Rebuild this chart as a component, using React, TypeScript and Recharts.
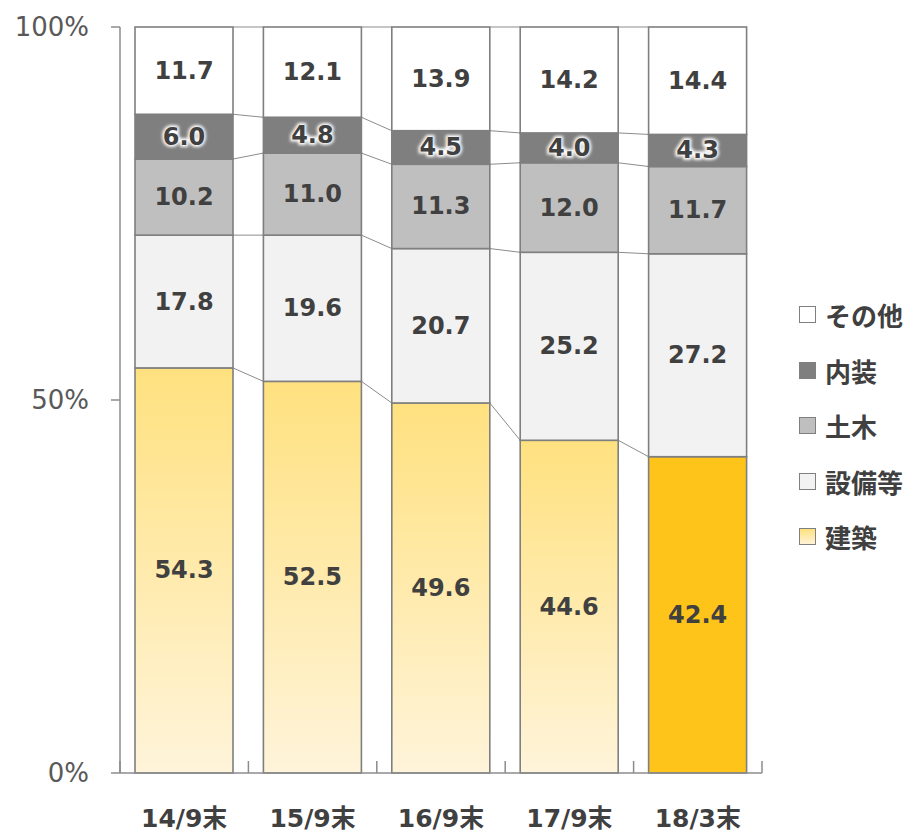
import { Bar, BarChart, LabelList, XAxis, YAxis } from "recharts";

const categories = ["14/9末", "15/9末", "16/9末", "17/9末", "18/3末"];
const kenchiku = [54.3, 52.5, 49.6, 44.6, 42.4];
const setsubi = [17.8, 19.6, 20.7, 25.2, 27.2];
const doboku = [10.2, 11.0, 11.3, 12.0, 11.7];
const naiso = [6.0, 4.8, 4.5, 4.0, 4.3];
const sonota = [11.7, 12.1, 13.9, 14.2, 14.4];
const yTicks = [0, 50, 100];

const SERIES = [
  { key: "kenchiku", name: "建築", fill: "url(#kenGrad)" },
  { key: "setsubi", name: "設備等", fill: "#f2f2f2" },
  { key: "doboku", name: "土木", fill: "#bfbfbf" },
  { key: "naiso", name: "内装", fill: "#7f7f7f" },
  { key: "sonota", name: "その他", fill: "#ffffff" },
];

const data = categories.map((c, i) => ({
  name: c,
  kenchiku: kenchiku[i],
  setsubi: setsubi[i],
  doboku: doboku[i],
  naiso: naiso[i],
  sonota: sonota[i],
}));

const W = 908;
const H = 832;
const M = { top: 27, right: 146, left: 0, bottom: 0 };
const X_H = 59;
const Y_W = 120;
const PLOT_W = W - M.right - Y_W;
const BAND = PLOT_W / categories.length;
const FONT = "Verdana, 'DejaVu Sans', 'Noto Sans CJK JP', sans-serif";
const DARK = "#404040";

const cum = (row: any, upto: number) => {
  let s = 0;
  for (let k = 0; k <= upto; k++) s += row[SERIES[k].key];
  return s;
};

const makeShape = (si: number) => (props: any) => {
  const { x, y, width, height, index, payload } = props;
  const key = SERIES[si].key;
  const per = height / payload[key];
  const zero = y + height + (cum(payload, si) - payload[key]) * per;
  const next = data[index + 1];
  let fill = SERIES[si].fill;
  if (si === 0 && index === data.length - 1) fill = "#ffc41a";
  return (
    <g>
      <rect x={x} y={y} width={width} height={height} fill={fill} stroke="#7f7f7f" strokeWidth={1.6} />
      {next && (
        <line
          x1={x + width}
          y1={y}
          x2={x + BAND}
          y2={zero - cum(next, si) * per}
          stroke="#8c8c8c"
          strokeWidth={1}
        />
      )}
    </g>
  );
};

const makeLabel = (halo: boolean) => (props: any) => {
  const { x, y, width, height, value } = props;
  const cx = x + width / 2;
  const cy = y + height / 2;
  const txt = Number(value).toFixed(1);
  return (
    <g>
      {halo && (
        <text x={cx} y={cy} textAnchor="middle" dominantBaseline="central" fontFamily={FONT} fontSize={24}
          fontWeight="bold" fill="#fff" stroke="#fff" strokeWidth={4} filter="url(#glow)">
          {txt}
        </text>
      )}
      <text x={cx} y={cy} textAnchor="middle" dominantBaseline="central" fontFamily={FONT} fontSize={24}
        fontWeight="bold" fill={DARK}>
        {txt}
      </text>
    </g>
  );
};

const XTick = (props: any) => {
  const { x, y, payload, index } = props;
  return (
    <g>
      <line x1={x - BAND / 2} y1={y} x2={x - BAND / 2} y2={y - 12} stroke="#8c8c8c" strokeWidth={1.5} />
      {index === categories.length - 1 && (
        <line x1={x + BAND / 2} y1={y} x2={x + BAND / 2} y2={y - 12} stroke="#8c8c8c" strokeWidth={1.5} />
      )}
      <text x={x} y={y + 54} textAnchor="middle" fontFamily={FONT} fontSize={25}
        fontWeight="bold" fill={DARK}>
        {payload.value}
      </text>
    </g>
  );
};

const LegendBox = () => (
  <div style={{ position: "absolute", left: 799, top: 287, width: 109, fontFamily: FONT }}>
    {[...SERIES].reverse().map((s) => (
      <div key={s.key} style={{ display: "flex", alignItems: "center", height: 55.5 }}>
        <span
          style={{
            width: 15,
            height: 15,
            border: "1.5px solid #7f7f7f",
            background: s.key === "kenchiku" ? "linear-gradient(#ffe17f, #fff3d6)" : s.fill,
            marginRight: 9,
            flex: "none",
          }}
        />
        <span style={{ fontSize: 26, fontWeight: "bold", color: DARK, whiteSpace: "nowrap" }}>{s.name}</span>
      </div>
    ))}
  </div>
);

export default function App() {
  return (
    <div style={{ position: "absolute", left: 0, top: 0, width: W, height: H, background: "#fff" }}>
      <BarChart width={W} height={H} data={data} margin={M} barSize={98}>
        <defs>
          <linearGradient id="kenGrad" x1="0" y1="0" x2="0" y2="1">
            <stop offset="0%" stopColor="#ffe17f" />
            <stop offset="100%" stopColor="#fff4da" />
          </linearGradient>
          <filter id="glow" x="-20%" y="-30%" width="140%" height="160%">
            <feGaussianBlur stdDeviation="1.5" />
          </filter>
        </defs>
        <XAxis
          dataKey="name"
          axisLine={{ stroke: "#8c8c8c", strokeWidth: 1.5 }}
          tickLine={false}
          tickSize={0}
          tickMargin={0}
          tick={<XTick />}
          height={X_H}
          interval={0}
        />
        <YAxis
          width={Y_W}
          domain={[0, 100]}
          ticks={yTicks}
          tickFormatter={(v: number) => `${v}%`}
          axisLine={{ stroke: "#8c8c8c", strokeWidth: 1.5 }}
          tickLine={{ stroke: "#8c8c8c", strokeWidth: 1.5 }}
          tickSize={9}
          tickMargin={22}
          tick={{ fontFamily: FONT, fontSize: 26, fill: "#595959" }}
        />
        {SERIES.map((s, si) => (
          <Bar
            key={s.key}
            dataKey={s.key}
            name={s.name}
            stackId="a"
            fill={s.fill}
            shape={makeShape(si)}
            isAnimationActive={false}
          >
            <LabelList dataKey={s.key} content={makeLabel(s.key === "naiso")} />
          </Bar>
        ))}
      </BarChart>
      <LegendBox />
    </div>
  );
}
